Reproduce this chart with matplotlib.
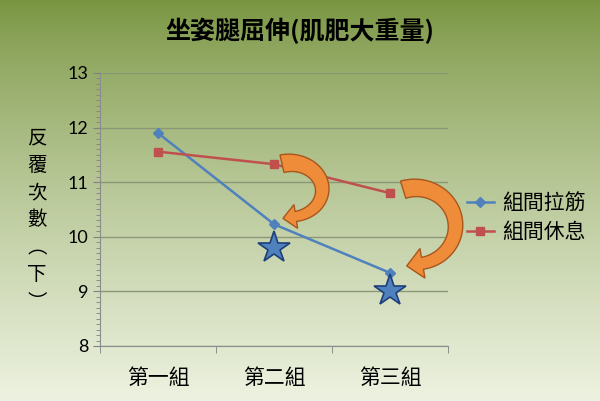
import numpy as np
import matplotlib
matplotlib.use("Agg")
import matplotlib.pyplot as plt
from matplotlib.patches import Polygon
from matplotlib.ticker import MultipleLocator

plt.rcParams['font.family'] = ['Noto Sans CJK TC', 'DejaVu Sans']

# data
groups = ['第一組', '第二組', '第三組']
stretch = [11.9, 10.23, 9.34]     # 組間拉筋
rest = [11.56, 11.33, 10.8]       # 組間休息
star_x = [2, 3]
star_y = [9.8, 9.0]


def fat_arrow(ax, cx, cy, rx, ry, a0, a1, w0, w1, hw, hl, **kw):
    # curved tapering arrow around an ellipse centred at (cx, cy) in data coords,
    # radii and widths in pixels
    c = ax.transData.transform((cx, cy))
    t = np.radians(np.linspace(a0, a1, 60))
    w = np.linspace(w0, w1, len(t))
    p = np.column_stack([c[0] + rx * np.cos(t), c[1] + ry * np.sin(t)])
    n = np.column_stack([np.cos(t) / rx, np.sin(t) / ry])
    n /= np.linalg.norm(n, axis=1)[:, None]
    outer = p + n * w[:, None] / 2
    inner = p - n * w[:, None] / 2
    d = np.array([rx * np.sin(t[-1]), -ry * np.cos(t[-1])])
    d /= np.linalg.norm(d)
    end = p[-1]
    head = [end + n[-1] * hw / 2, end + d * hl, end - n[-1] * hw / 2]
    pts = np.vstack([outer, head, inner[::-1]])
    pts = ax.transData.inverted().transform(pts)
    ax.add_patch(Polygon(pts, closed=True, clip_on=False, **kw))


fig = plt.figure(figsize=(6, 4.01), dpi=100)

# green gradient background
bg = fig.add_axes([0, 0, 1, 1], zorder=-10)
grad = np.linspace(0, 1, 256).reshape(-1, 1)
top = np.array([0.47, 0.58, 0.25])
bot = np.array([0.93, 0.95, 0.88])
img = top + (bot - top) * grad[..., None] ** 0.8
bg.imshow(img, aspect='auto', extent=[0, 1, 0, 1], origin='upper')
bg.axis('off')

ax = fig.add_axes([100 / 600, 1 - 346 / 401, 348 / 600, 273 / 401])
ax.patch.set_alpha(0)
x = np.arange(1, len(groups) + 1)

ax.plot(x, stretch, color='#4f81bd', lw=1.8, marker='D', ms=5, label='組間拉筋', zorder=3)
ax.plot(x, rest, color='#c0504d', lw=1.8, marker='s', ms=6, label='組間休息', zorder=3)
ax.plot(star_x, star_y, ls='none', marker='*', ms=24, mfc='#4f81bd',
        mec='#1f3f7a', mew=1.2, zorder=4)

ax.set_xlim(0.5, 3.5)
ax.set_ylim(8, 13)

# curved orange arrows
fat_arrow(ax, 2.14, 10.86, 32, 27, 105, -80, 18, 10, 24, 13,
          fc='#ee8c3a', ec='#a8561c', lw=1, zorder=5)
fat_arrow(ax, 3.22, 10.20, 40, 38, 108, -80, 18, 12, 30, 16,
          fc='#ee8c3a', ec='#a8561c', lw=1, zorder=5)

ax.yaxis.set_major_locator(MultipleLocator(1))
ax.yaxis.set_minor_locator(MultipleLocator(0.1))
ax.set_xticks(x)
ax.set_xticklabels(groups, fontsize=15)
ax.set_xticks([0.5, 1.5, 2.5, 3.5], minor=True)
ax.tick_params(axis='x', which='major', length=0, pad=15)
ax.tick_params(axis='x', which='minor', length=5, color='#808080')
ax.tick_params(axis='y', which='major', length=5, color='#808080', labelsize=13)
ax.tick_params(axis='y', which='minor', length=3, color='#808080')
for lab in ax.get_yticklabels():
    lab.set_family(['Lato', 'DejaVu Sans'])
ax.grid(axis='y', color='#8a9878', lw=1)
for s in ['top', 'right']:
    ax.spines[s].set_visible(False)
for s in ['left', 'bottom']:
    ax.spines[s].set_color('#8c8c8c')

fig.text(0.5, 1 - 31 / 401, '坐姿腿屈伸(肌肥大重量)', ha='center', va='center',
         fontsize=18, fontweight='bold')
fig.text(37 / 600, 1 - 220 / 401, '反\n覆\n次\n數\n︵\n下\n︶', ha='center', va='center',
         fontsize=14, linespacing=1.4)

ax.legend(loc='center left', bbox_to_anchor=(1.0, 0.47), frameon=False,
          fontsize=15, handlelength=1.3, handletextpad=0.4, labelspacing=0.35)

fig.savefig('out.png', dpi=100)
